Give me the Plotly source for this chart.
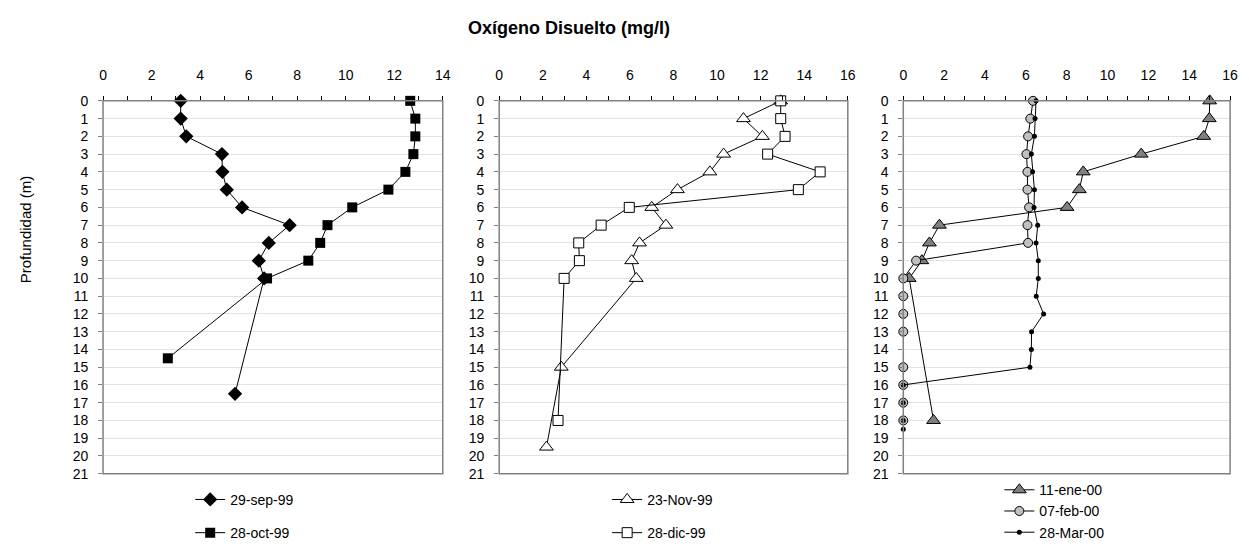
import plotly.graph_objects as go

# Depth profiles of dissolved oxygen (mg/l) vs depth (m)
sep99_depth = [0, 1, 2, 3, 4, 5, 6, 7, 8, 9, 10, 16.5]
sep99_do = [3.2, 3.2, 3.43, 4.9, 4.92, 5.1, 5.73, 7.69, 6.83, 6.42, 6.64, 5.44]

oct99_depth = [0, 1, 2, 3, 4, 5, 6, 7, 8, 9, 10, 14.5]
oct99_do = [12.66, 12.87, 12.87, 12.79, 12.46, 11.76, 10.27, 9.25, 8.95, 8.46, 6.76, 2.67]

nov99_depth = [0, 1, 2, 3, 4, 5, 6, 7, 8, 9, 10, 15, 19.5]
nov99_do = [12.92, 11.21, 12.08, 10.3, 9.67, 8.18, 7.0, 7.65, 6.44, 6.08, 6.29, 2.85, 2.17]

dic99_depth = [0, 1, 2, 3, 4, 5, 6, 7, 8, 9, 10, 18]
dic99_do = [12.92, 12.92, 13.12, 12.32, 14.73, 13.73, 5.97, 4.68, 3.65, 3.68, 2.98, 2.7]

ene00_depth = [0, 1, 2, 3, 4, 5, 6, 7, 8, 9, 10, 18]
ene00_do = [15.0, 14.98, 14.71, 11.65, 8.81, 8.62, 8.02, 1.77, 1.28, 0.91, 0.29, 1.48]

feb00_depth = [0, 1, 2, 3, 4, 5, 6, 7, 8, 9, 10, 11, 12, 13, 15, 16, 17, 18]
feb00_do = [6.35, 6.22, 6.11, 6.03, 6.08, 6.08, 6.16, 6.08, 6.11, 0.63, 0, 0, 0, 0, 0, 0, 0, 0]

mar00_depth = [0, 1, 2, 3, 4, 5, 6, 7, 8, 9, 10, 11, 12, 13, 14, 15, 16, 17, 18, 18.5]
mar00_do = [6.5, 6.45, 6.42, 6.27, 6.33, 6.42, 6.4, 6.58, 6.5, 6.61, 6.61, 6.51, 6.87, 6.28, 6.27, 6.2, 0, 0, 0, 0]

depth_ticks = list(range(0, 22))

W, H = 1249, 549
FONT = "Liberation Sans, Arial, sans-serif"

# panel pixel boxes: (left, right)
panels_px = [(100, 443), (500, 852), (908, 1238)]
top_px, bot_px = 96, 481.5
xranges = [[0, 14], [0, 16], [0, 16]]

fig = go.Figure()


def add(x, y, name, k, legend, marker, group):
    fig.add_trace(go.Scatter(
        x=x, y=y, name=name, mode="lines+markers",
        xaxis="x" if k == 1 else f"x{k}", yaxis="y" if k == 1 else f"y{k}",
        line=dict(color="black", width=1), marker=marker,
        legend=legend, legendgroup=group, cliponaxis=False,
    ))


add(sep99_do, sep99_depth, "29-sep-99", 1, "legend",
    dict(symbol="diamond", size=11, color="black"), "a")
add(oct99_do, oct99_depth, "28-oct-99", 1, "legend",
    dict(symbol="square", size=10, color="black"), "b")
add(nov99_do, nov99_depth, "23-Nov-99", 2, "legend2",
    dict(symbol="triangle-up", size=12, color="white", line=dict(color="black", width=1)), "c")
add(dic99_do, dic99_depth, "28-dic-99", 2, "legend2",
    dict(symbol="square", size=10, color="white", line=dict(color="black", width=1)), "d")
add(ene00_do, ene00_depth, "11-ene-00", 3, "legend3",
    dict(symbol="triangle-up", size=12, color="#808080", line=dict(color="black", width=1)), "e")
add(feb00_do, feb00_depth, "07-feb-00", 3, "legend3",
    dict(symbol="circle", size=9, color="#c0c0c0", line=dict(color="black", width=1)), "f")
add(mar00_do, mar00_depth, "28-Mar-00", 3, "legend3",
    dict(symbol="circle", size=5, color="black"), "g")

layout = dict(
    width=W, height=H,
    margin=dict(l=0, r=0, t=0, b=0),
    paper_bgcolor="white", plot_bgcolor="white",
    font=dict(family=FONT, size=14, color="black"),
    showlegend=True,
)

ydom = [1 - bot_px / H, 1 - top_px / H]
shapes = []
for i, ((l, r), xr) in enumerate(zip(panels_px, xranges)):
    k = "" if i == 0 else str(i + 1)
    layout[f"xaxis{k}"] = dict(
        domain=[l / W, r / W], range=xr, side="top", anchor=f"y{k}",
        showline=True, linecolor="black", linewidth=1,
        ticks="outside", ticklen=4, tickcolor="black", dtick=2,
        minor=dict(ticks="outside", ticklen=4, tickcolor="black", dtick=1),
        showgrid=False, zeroline=False, ticklabelstandoff=10,
        tickfont=dict(size=14, family=FONT), fixedrange=True,
    )
    layout[f"yaxis{k}"] = dict(
        domain=ydom, range=[21, 0], anchor=f"x{k}",
        tickvals=depth_ticks, ticktext=[str(v) for v in depth_ticks],
        showline=False, ticks="outside", ticklen=4, tickcolor="#808080",
        showgrid=True, gridcolor="#e3e3e3", gridwidth=1, zeroline=False,
        ticklabelstandoff=7,
        tickfont=dict(size=14, family=FONT), fixedrange=True,
    )
    shapes.append(dict(
        type="rect", xref="paper", yref="paper",
        x0=l / W, x1=r / W, y0=ydom[0], y1=ydom[1],
        line=dict(color="#808080", width=1.5), layer="above",
    ))

layout["shapes"] = shapes

leg_common = dict(
    xanchor="left", yanchor="top", bgcolor="rgba(0,0,0,0)",
    font=dict(size=14, family=FONT), tracegroupgap=12,
    itemwidth=30,
)
layout["legend"] = dict(x=188 / W, y=1 - 492 / H, **leg_common)
layout["legend2"] = dict(x=609 / W, y=1 - 492 / H, **leg_common)
leg3 = dict(leg_common)
leg3["tracegroupgap"] = 0
layout["legend3"] = dict(x=1005 / W, y=1 - 482 / H, **leg3)

layout["annotations"] = [
    dict(text="<b>Oxígeno Disuelto (mg/l)</b>", x=570 / W, y=1 - 21 / H,
         xref="paper", yref="paper", showarrow=False,
         font=dict(size=18, family=FONT), xanchor="center", yanchor="middle"),
    dict(text="Profundidad (m)", x=22 / W, y=1 - 229 / H,
         xref="paper", yref="paper", showarrow=False, textangle=-90,
         font=dict(size=15, family=FONT), xanchor="center", yanchor="middle"),
]

fig.update_layout(**layout)
fig.write_html("out.html")
